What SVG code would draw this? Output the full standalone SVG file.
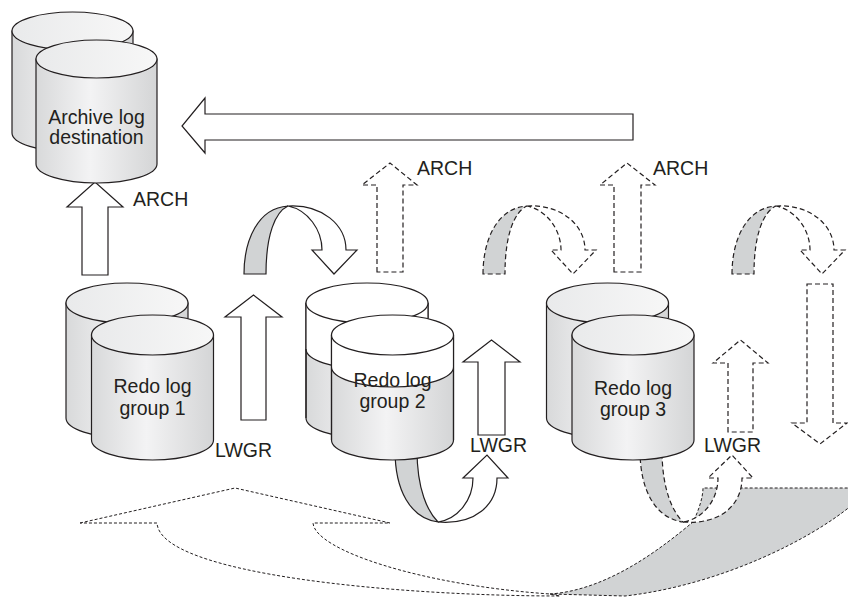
<svg xmlns="http://www.w3.org/2000/svg" width="848" height="600" viewBox="0 0 848 600">
<style>
.w{fill:#fff;stroke:#231f20;stroke-width:1.2;stroke-linejoin:miter}
.g{fill:#d1d3d4;stroke:#231f20;stroke-width:1.2}
.d{stroke-dasharray:5 3}
.fd{stroke-dasharray:3 2;stroke-width:1}
.cyl{fill:url(#side);stroke:#231f20;stroke-width:1.2}
.top{fill:url(#topg);stroke:#231f20;stroke-width:1.2}
.wt{fill:#fff;stroke:#231f20;stroke-width:1.2}
.ln{fill:none;stroke:#231f20;stroke-width:1.2}
text{font-family:"Liberation Sans",Arial,sans-serif;font-size:19.5px;fill:#231f20}
.c{text-anchor:middle}
</style>
<defs>
<linearGradient id="side" x1="0" y1="0" x2="1" y2="0">
<stop offset="0" stop-color="#d8d9da"/>
<stop offset="0.45" stop-color="#f3f3f4"/>
<stop offset="1" stop-color="#d4d5d6"/>
</linearGradient>
<linearGradient id="topg" x1="0" y1="0" x2="1" y2="0">
<stop offset="0" stop-color="#e9eaeb"/>
<stop offset="1" stop-color="#f7f7f7"/>
</linearGradient>
</defs>

<g id="connectors">
<path class="w fd" d="M80,523 L235,488 L390,523 L313,523 C315,550 420,585 550,594 L560,596 C400,596 160,575 157,523 Z"/>
<path class="g fd" d="M550,594 C610,590 665,545 693,522 C698,512 703,498 703,488 L852,488 L852,505 C810,540 720,585 625,596 Z"/>
<path class="g" d="M395,450 C395,490 410,518 438,522 C428,512 417,490 417,450 Z"/>
<path class="w" d="M438,522 C475,525 497,505 497,478 L508,478 L487,455 L463,478 L473,478 C473,500 458,519 438,522 Z"/>
<g transform="translate(245,0)">
<path class="g d" d="M395,450 C395,490 410,518 438,522 C428,512 417,490 417,450 Z"/>
<path class="w d" d="M438,522 C475,525 497,505 497,478 L508,478 L487,455 L463,478 L473,478 C473,500 458,519 438,522 Z"/>
</g>
<polygon class="w" points="633,114 205,114 205,98 182,126 205,153 205,140 633,140"/>
<polygon class="w" points="82,275 82,207 67,207 95,182 123,207 108,207 108,275"/>
<polygon class="w" points="241,420 241,317 225,317 253.5,295 282,317 266,317 266,420"/>
<polygon class="w" points="478,435 478,362 463,362 491.5,340 520,362 505,362 505,435"/>
<polygon class="w d" points="728,432 728,363 713,363 740.5,340 768,363 753,363 753,432"/>
<polygon class="w d" points="377,272 377,185 362,185 390,163 417,185 403,185 403,272"/>
<polygon class="w d" points="614,272 614,185 600,185 627,163 655,185 641,185 641,272"/>
<polygon class="w d" points="807,284 833,284 833,423 847,423 820,444 792,423 807,423"/>
<path class="g" d="M244,274 C244,240 258,208 288,206 C275,212 266,235 266,274 Z"/>
<path class="w" d="M288,206 C322,204 346,225 346,250 L357,250 L334,274 L312,250 L322,250 C322,230 308,210 288,206 Z"/>
<g transform="translate(239,0)">
<path class="g d" d="M244,274 C244,240 258,208 288,206 C275,212 266,235 266,274 Z"/>
<path class="w d" d="M288,206 C322,204 346,225 346,250 L357,250 L334,274 L312,250 L322,250 C322,230 308,210 288,206 Z"/>
</g>
<g transform="translate(488,0)">
<path class="g d" d="M244,274 C244,240 258,208 288,206 C275,212 266,235 266,274 Z"/>
<path class="w d" d="M288,206 C322,204 346,225 346,250 L357,250 L334,274 L312,250 L322,250 C322,230 308,210 288,206 Z"/>
</g>
<text x="133" y="206">ARCH</text>
<text x="417" y="175">ARCH</text>
<text x="653" y="175">ARCH</text>
<text x="215" y="457">LWGR</text>
<text x="470" y="452">LWGR</text>
<text x="704" y="452">LWGR</text>
</g>

<g id="archive">
<path class="cyl" d="M12,31 L12,133 A60.5,19 0 0 0 133,133 L133,31 Z"/>
<ellipse class="top" cx="72.5" cy="31" rx="60.5" ry="19"/>
<path class="cyl" d="M36,59 L36,164 A60.5,19 0 0 0 157,164 L157,59 Z"/>
<ellipse class="top" cx="96.5" cy="59" rx="60.5" ry="19"/>
<text class="c" x="96.5" y="124">Archive log</text>
<text class="c" x="96.5" y="144">destination</text>
</g>

<g id="redo1">
<path class="cyl" d="M66,303 L66,418 A61,20 0 0 0 188,418 L188,303 Z"/>
<ellipse class="top" cx="127" cy="303" rx="61" ry="20"/>
<path class="cyl" d="M91.5,335 L91.5,440 A61,20 0 0 0 213.5,440 L213.5,335 Z"/>
<ellipse class="top" cx="152.5" cy="335" rx="61" ry="20"/>
<text class="c" x="152.5" y="393">Redo log</text>
<text class="c" x="152.5" y="415">group 1</text>
</g>

<g id="redo2">
<path class="cyl" d="M306,303 L306,418 A61,20 0 0 0 428,418 L428,303 Z"/>
<path class="wt" style="stroke:none" d="M306,303 L306,349 A61,20 0 0 0 428,349 L428,303 Z"/>
<path class="ln" d="M306,349 A61,20 0 0 0 428,349"/>
<path class="ln" d="M306,303 L306,418 M428,303 L428,418"/>
<ellipse class="wt" cx="367" cy="303" rx="61" ry="20"/>
<path class="cyl" d="M331.5,335 L331.5,440 A61,20 0 0 0 453.5,440 L453.5,335 Z"/>
<path class="wt" style="stroke:none" d="M331.5,335 L331.5,367 A61,20 0 0 0 453.5,367 L453.5,335 Z"/>
<path class="ln" d="M331.5,367 A61,20 0 0 0 453.5,367 M331.5,335 L331.5,440 M453.5,335 L453.5,440"/>
<ellipse class="wt" cx="392.5" cy="335" rx="61" ry="20"/>
<text class="c" x="392.5" y="387">Redo log</text>
<text class="c" x="392.5" y="408">group 2</text>
</g>

<g id="redo3">
<path class="cyl" d="M546.5,303 L546.5,418 A61,20 0 0 0 668.5,418 L668.5,303 Z"/>
<ellipse class="top" cx="607.5" cy="303" rx="61" ry="20"/>
<path class="cyl" d="M572,335 L572,440 A61,20 0 0 0 694,440 L694,335 Z"/>
<ellipse class="top" cx="633" cy="335" rx="61" ry="20"/>
<text class="c" x="633" y="395">Redo log</text>
<text class="c" x="633" y="416">group 3</text>
</g>
</svg>
